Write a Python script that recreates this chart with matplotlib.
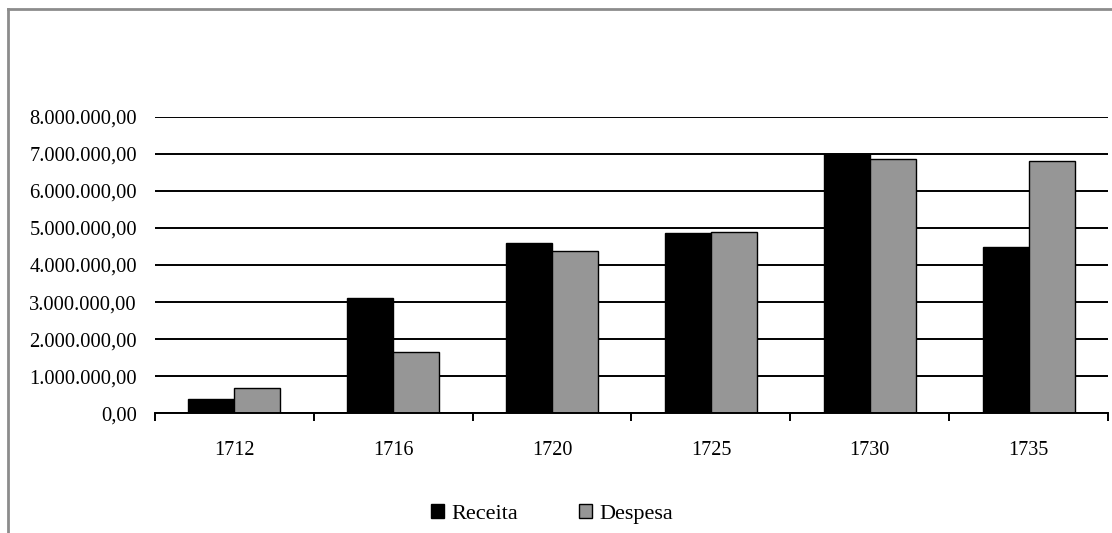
import matplotlib
matplotlib.use("Agg")
import matplotlib.pyplot as plt
import numpy as np
from matplotlib.lines import Line2D
from matplotlib.ticker import FuncFormatter, FixedLocator

# Receitas e despesas por ano
anos = ["1712", "1716", "1720", "1725", "1730", "1735"]
receita = [380000, 3100000, 4580000, 4850000, 7000000, 4490000]
despesa = [690000, 1660000, 4380000, 4900000, 6850000, 6800000]

plt.rcParams["font.family"] = ["Liberation Serif", "DejaVu Serif"]

W, H, DPI = 1112, 533, 100
fig = plt.figure(figsize=(W / DPI, H / DPI), dpi=DPI)
ax = fig.add_axes([155 / W, 1 - 413.3 / H, (1108 - 155) / W, (413.3 - 116.7) / H])

x = np.arange(len(anos))
bw = 0.29
ax.bar(x - bw / 2, receita, bw, color="black", edgecolor="black", linewidth=1.0,
       label="Receita", zorder=3)
ax.bar(x + bw / 2, despesa, bw, color="#969696", edgecolor="black", linewidth=1.0,
       label="Despesa", zorder=3)

ax.set_xlim(-0.5, len(anos) - 0.5)
ax.set_ylim(0, 8000000)
ax.set_yticks(np.arange(0, 8000001, 1000000))


def fmt_br(v, pos):
    s = f"{v:,.2f}"
    return s.replace(",", "X").replace(".", ",").replace("X", ".")


ax.yaxis.set_major_formatter(FuncFormatter(fmt_br))
ax.grid(axis="y", color="black", linewidth=1.4, zorder=0)
ax.set_xticks(x)
ax.set_xticklabels(anos)
ax.xaxis.set_minor_locator(FixedLocator(np.arange(-0.5, len(anos), 1.0)))
ax.tick_params(axis="x", which="major", length=0, pad=20, labelsize=14.5)
ax.tick_params(axis="x", which="minor", length=6, width=1.4, direction="out", color="black")
ax.tick_params(axis="y", length=0, pad=13, labelsize=14.8)

for s in ["top", "right", "left"]:
    ax.spines[s].set_visible(False)
ax.spines["bottom"].set_linewidth(1.4)
ax.spines["bottom"].set_zorder(4)

ax.legend(loc="center", bbox_to_anchor=(552 / W, 1 - 514 / H),
          bbox_transform=fig.transFigure, ncol=2, frameon=False,
          fontsize=16, handlelength=0.6, handleheight=0.6,
          handletextpad=0.35, columnspacing=2.7)

# Moldura da área do gráfico
frame_kw = dict(color="#8c8c8c", linewidth=2.0, transform=fig.transFigure)
fig.add_artist(Line2D([8 / W, 8 / W], [0, 1 - 9 / H], **frame_kw))
fig.add_artist(Line2D([8 / W, 1], [1 - 9 / H, 1 - 9 / H], **frame_kw))

fig.savefig("out.png", dpi=DPI)
